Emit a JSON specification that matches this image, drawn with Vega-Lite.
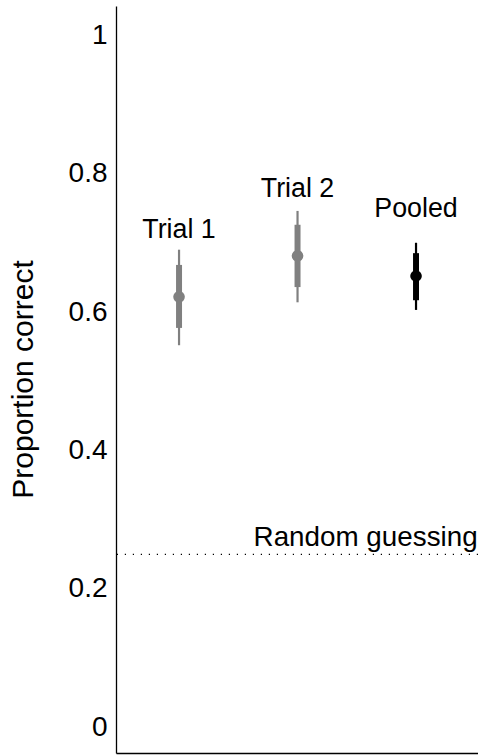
{
  "$schema": "https://vega.github.io/schema/vega-lite/v6.json",
  "width": 362,
  "height": 747,
  "autosize": {"type": "none"},
  "padding": {"left": 116, "top": 6, "right": 0, "bottom": 3},
  "background": "white",
  "config": {
    "view": {"stroke": null},
    "font": "Liberation Sans",
    "axis": {"grid": false}
  },
  "datasets": {
    "est": [
      {"label": "Trial 1", "pos": 1, "group": "trial", "est": 0.622, "lo50": 0.577, "hi50": 0.668, "lo95": 0.552, "hi95": 0.69},
      {"label": "Trial 2", "pos": 2, "group": "trial", "est": 0.681, "lo50": 0.636, "hi50": 0.726, "lo95": 0.614, "hi95": 0.746},
      {"label": "Pooled", "pos": 3, "group": "pooled", "est": 0.652, "lo50": 0.617, "hi50": 0.685, "lo95": 0.603, "hi95": 0.7}
    ],
    "guess": [
      {"y": 0.25, "pos": 3.52, "text": "Random guessing"}
    ]
  },
  "layer": [
    {
      "data": {"name": "guess"},
      "mark": {"type": "rule", "color": "black", "strokeWidth": 1.2, "strokeDash": [1.2, 6.8]},
      "encoding": {
        "y": {"field": "y", "type": "quantitative", "scale": {"domain": [-0.037, 1.042], "nice": false, "zero": false},
          "axis": {"domain": true, "domainColor": "black", "domainWidth": 1.3, "ticks": false, "tickSize": 0, "labelPadding": 9,
            "values": [0, 0.2, 0.4, 0.6, 0.8, 1], "labelExpr": "datum.value == 0 ? '0' : datum.value == 1 ? '1' : format(datum.value, '.1f')",
            "labelFontSize": 28, "labelColor": "black", "labelFont": "Liberation Sans",
            "title": "Proportion correct", "titleFontSize": 30, "titleFontWeight": "normal", "titleColor": "black", "titleFont": "Liberation Sans",
            "titleX": -93, "titleY": 373, "titleAngle": -90, "titleBaseline": "middle", "titleAlign": "center"}}
      }
    },
    {
      "data": {"name": "guess"},
      "mark": {"type": "text", "align": "right", "baseline": "alphabetic", "dy": -8, "fontSize": 27.8, "color": "black", "font": "Liberation Sans"},
      "encoding": {
        "x": {"field": "pos", "type": "quantitative", "scale": {"domain": [0.468, 3.523], "nice": false, "zero": false},
          "axis": {"domain": true, "domainColor": "black", "domainWidth": 1.3, "ticks": false, "tickSize": 0, "labels": false, "title": null}},
        "y": {"field": "y", "type": "quantitative"},
        "text": {"field": "text"}
      }
    },
    {
      "data": {"name": "est"},
      "mark": {"type": "rule", "strokeWidth": 2.2},
      "encoding": {
        "x": {"field": "pos", "type": "quantitative"},
        "y": {"field": "lo95", "type": "quantitative"},
        "y2": {"field": "hi95"},
        "color": {"field": "group", "type": "nominal", "scale": {"domain": ["trial", "pooled"], "range": ["#808080", "#000000"]}, "legend": null}
      }
    },
    {
      "data": {"name": "est"},
      "mark": {"type": "rule", "strokeWidth": 6},
      "encoding": {
        "x": {"field": "pos", "type": "quantitative"},
        "y": {"field": "lo50", "type": "quantitative"},
        "y2": {"field": "hi50"},
        "color": {"field": "group", "type": "nominal", "legend": null}
      }
    },
    {
      "data": {"name": "est"},
      "mark": {"type": "point", "filled": true, "shape": "circle", "size": 135, "opacity": 1},
      "encoding": {
        "x": {"field": "pos", "type": "quantitative"},
        "y": {"field": "est", "type": "quantitative"},
        "color": {"field": "group", "type": "nominal", "legend": null}
      }
    },
    {
      "data": {"name": "est"},
      "mark": {"type": "text", "baseline": "alphabetic", "align": "center", "dy": -59, "fontSize": 26.8, "color": "black", "font": "Liberation Sans"},
      "encoding": {
        "x": {"field": "pos", "type": "quantitative"},
        "y": {"field": "est", "type": "quantitative"},
        "text": {"field": "label"}
      }
    }
  ]
}
